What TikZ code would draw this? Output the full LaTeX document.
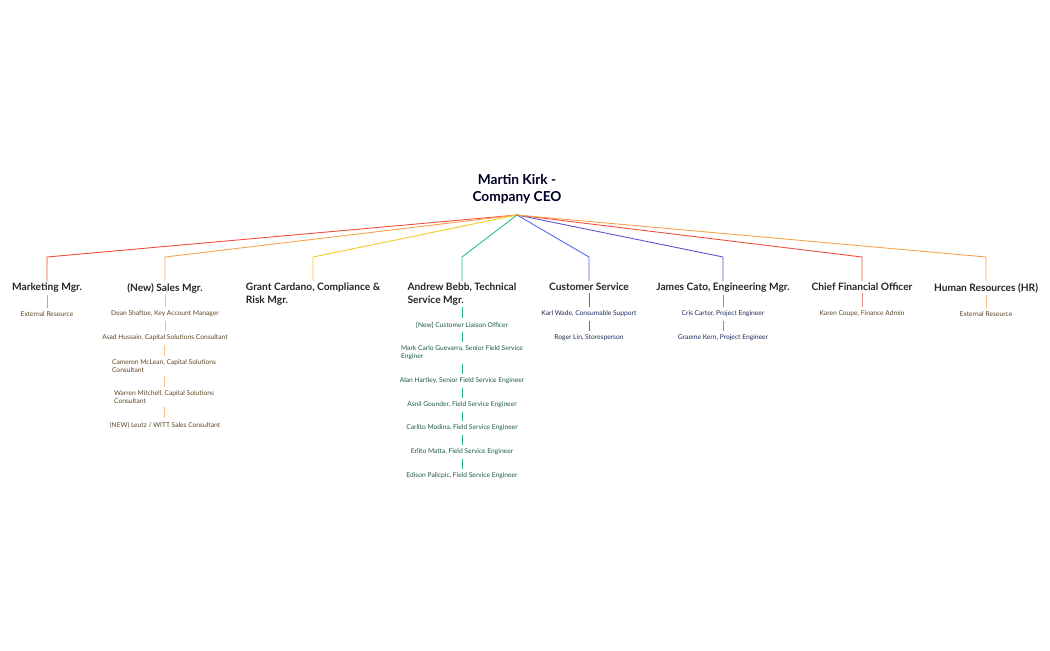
\documentclass[tikz,border=0pt]{standalone}
\usepackage{fontspec}
\setmainfont{Lato}
\definecolor{cred}{HTML}{EE4B3B}
\definecolor{corange}{HTML}{F5A04A}
\definecolor{cyellow}{HTML}{F2CC1D}
\definecolor{cgreen}{HTML}{22BD8A}
\definecolor{cblue}{HTML}{4F67EE}
\definecolor{cindigo}{HTML}{5A52C8}
\definecolor{tbrown}{HTML}{5E4526}
\definecolor{tgreen}{HTML}{1E5A46}
\definecolor{tnavy}{HTML}{1F2A5C}
\tikzset{
  root/.style={font=\bfseries\fontsize{7.8}{9.6}\selectfont, align=center, text=black!85!blue, inner sep=1pt},
  mgr/.style={font=\fontsize{5.8}{7.2}\selectfont\bfseries, anchor=north, inner sep=1pt, text=black!85},
  kid/.style={font=\fontsize{3.8}{4.6}\selectfont, inner sep=1.8pt},
  link/.style={line width=0.5pt}
}
\begin{document}
\begin{tikzpicture}[x=0.02cm,y=-0.02cm]
\useasboundingbox (0,0) rectangle (1050,650);
\node[root] (ceo) at (517,189) {Martin Kirk -\\Company CEO};
\coordinate (top) at (517,215);
% managers
\node[mgr] (mkt) at (47,281) {Marketing Mgr.};
\node[mgr] (sales) at (165,281) {(New) Sales Mgr.};
\node[mgr, align=left] (comp) at (313,281) {Grant Cardano, Compliance \&\\Risk Mgr.};
\node[mgr, align=left] (tech) at (462,281) {Andrew Bebb, Technical\\Service Mgr.};
\node[mgr] (cs) at (589,281) {Customer Service};
\node[mgr] (eng) at (723,281) {James Cato, Engineering Mgr.};
\node[mgr] (cfo) at (862,281) {Chief Financial Officer};
\node[mgr] (hr) at (986,281) {Human Resources (HR)};
% branches
\foreach \m/\c in {mkt/cred,sales/corange,comp/cyellow,tech/cgreen,cs/cblue,eng/cindigo,cfo/cred,hr/corange}
  \draw[link,\c] (top) -- (\m.north |- 0,257) -- (\m.north);
% marketing
\node[kid, text=tbrown] (mkt1) at (47,314) {External Resource};
\draw[link,cred!60] (mkt.south) -- (mkt1);
% sales
\node[kid, text=tbrown] (s1) at (165,314) {Dean Shaftoe, Key Account Manager};
\node[kid, text=tbrown] (s2) at (165,338) {Asad Hussain, Capital Solutions Consultant};
\node[kid, text=tbrown, align=left] (s3) at (164,366) {Cameron McLean, Capital Solutions\\Consultant};
\node[kid, text=tbrown, align=left] (s4) at (164,397) {Warren Mitchell, Capital Solutions\\Consultant};
\node[kid, text=tbrown] (s5) at (165,425) {(NEW) Leutz / WITT Sales Consultant};
\draw[link,corange!70] (sales.south) -- (s1);
\foreach \a/\b in {s1/s2,s2/s3,s3/s4,s4/s5}
  \draw[link,corange!70] (\a) -- (\b);
% technical service
\node[kid, text=tgreen] (t1) at (462,325) {[New] Customer Liaison Officer};
\node[kid, text=tgreen, align=left] (t2) at (462,353) {Mark Carlo Guevarra, Senior Field Service\\Enginer};
\node[kid, text=tgreen] (t3) at (462,381) {Alan Hartley, Senior Field Service Engineer};
\node[kid, text=tgreen] (t4) at (462,405) {Asnil Gounder, Field Service Engineer};
\node[kid, text=tgreen] (t5) at (462,428) {Carlito Modina, Field Service Engineer};
\node[kid, text=tgreen] (t6) at (462,452) {Erlito Matta, Field Service Engineer};
\node[kid, text=tgreen] (t7) at (462,476) {Edison Palicpic, Field Service Engineer};
\draw[link,cgreen] (tech.south) -- (t1);
\foreach \a/\b in {t1/t2,t2/t3,t3/t4,t4/t5,t5/t6,t6/t7}
  \draw[link,cgreen] (\a) -- (\b);
% customer service
\node[kid, text=tnavy] (c1) at (589,314) {Karl Wade, Consumable Support};
\node[kid, text=tnavy] (c2) at (589,338) {Roger Lin, Storesperson};
\draw[link,cblue] (cs.south) -- (c1);
\draw[link,cblue] (c1) -- (c2);
% engineering
\node[kid, text=tnavy] (e1) at (723,314) {Cris Carter, Project Engineer};
\node[kid, text=tnavy] (e2) at (723,338) {Graeme Kern, Project Engineer};
\draw[link,cindigo!70] (eng.south) -- (e1);
\draw[link,cindigo!70] (e1) -- (e2);
% finance, hr
\node[kid, text=tbrown] (f1) at (862,314) {Karen Coupe, Finance Admin};
\draw[link,cred!60] (cfo.south) -- (f1);
\node[kid, text=tbrown] (h1) at (986,314) {External Resource};
\draw[link,corange!70] (hr.south) -- (h1);
\end{tikzpicture}
\end{document}
